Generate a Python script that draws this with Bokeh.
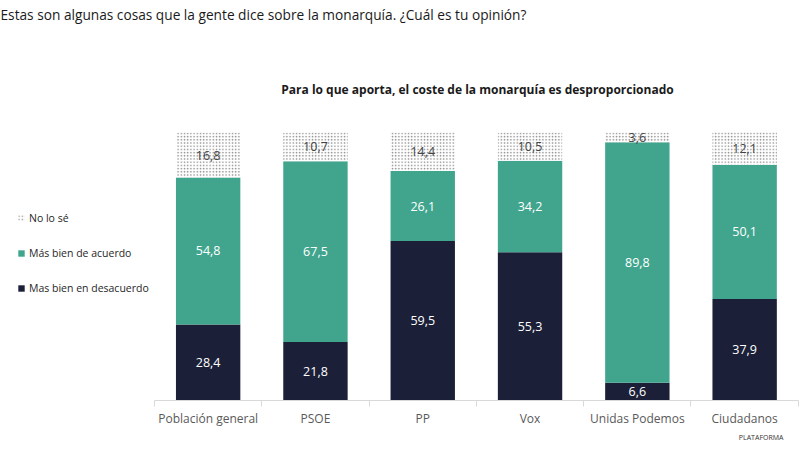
from bokeh.plotting import figure
from bokeh.models import (Range1d, LinearAxis, FixedTicker, Legend, LegendItem,
                          Label, Title, ColumnDataSource)
from bokeh.core.properties import value
from bokeh.embed import file_html
from bokeh.resources import INLINE

categories = ["Población general", "PSOE", "PP", "Vox", "Unidas Podemos", "Ciudadanos"]
desacuerdo = [28.4, 21.8, 59.5, 55.3, 6.6, 37.9]
acuerdo = [54.8, 67.5, 26.1, 34.2, 89.8, 50.1]
no_lo_se = [16.8, 10.7, 14.4, 10.5, 3.6, 12.1]
series_names = ["Mas bien en desacuerdo", "Más bien de acuerdo", "No lo sé"]
heading = "Estas son algunas cosas que la gente dice sobre la monarquía. ¿Cuál es tu opinión?"
chart_title = "Para lo que aporta, el coste de la monarquía es desproporcionado"
brand = "PLATAFORMA"

NAVY = "#1b1f37"
TEAL = "#41a58e"
FONT = "Open Sans"

n = len(categories)
xpos = [i + 0.5 for i in range(n)]
src = ColumnDataSource(dict(x=xpos, des=desacuerdo, acu=acuerdo, nls=no_lo_se))

p = figure(width=800, height=450, x_range=Range1d(-1.4352, 6.0205), y_range=Range1d(0, 149.25),
           output_backend="svg", toolbar_location=None, x_axis_type=None, y_axis_type=None,
           min_border_left=0, min_border_right=0, min_border_top=0, min_border_bottom=50)
p.outline_line_color = None
p.grid.visible = False
p.title.visible = False

rs = p.vbar_stack(["des", "acu", "nls"], x="x", width=0.6, source=src,
                  fill_color=[NAVY, TEAL, "white"], line_color=None)
rs[2].glyph.hatch_pattern = "dot"
rs[2].glyph.hatch_color = "#8c8c8c"
rs[2].glyph.hatch_scale = 3.2
rs[2].glyph.hatch_weight = 1.0

# value labels
lx, ly, lt, lc = [], [], [], []
for i in range(n):
    base = 0.0
    for vals, col in ((desacuerdo, "white"), (acuerdo, "white"), (no_lo_se, "#444444")):
        v = vals[i]
        lx.append(xpos[i])
        ly.append(base + v / 2)
        lt.append(f"{v:.1f}".replace(".", ","))
        lc.append(col)
        base += v
lsrc = ColumnDataSource(dict(x=lx, y=ly, t=lt, c=lc))
p.text(x="x", y="y", text="t", text_color="c", source=lsrc, text_align="center",
       text_baseline="middle", text_font=value(FONT), text_font_size="12.5px")

xaxis = LinearAxis(ticker=FixedTicker(ticks=xpos, minor_ticks=list(range(n + 1))),
                   major_label_overrides={x: c for x, c in zip(xpos, categories)},
                   bounds=(0, n))
xaxis.axis_line_color = "#d9d9d9"
xaxis.major_tick_line_color = None
xaxis.major_tick_out = 0
xaxis.major_tick_in = 0
xaxis.minor_tick_line_color = "#d9d9d9"
xaxis.minor_tick_out = 6
xaxis.minor_tick_in = 0
xaxis.major_label_standoff = 3
xaxis.major_label_text_font = FONT
xaxis.major_label_text_font_size = "12px"
xaxis.major_label_text_color = "#595959"
p.add_layout(xaxis, "below")

legend = Legend(items=[LegendItem(label=series_names[2], renderers=[rs[2]]),
                       LegendItem(label=series_names[1], renderers=[rs[1]]),
                       LegendItem(label=series_names[0], renderers=[rs[0]])],
                location=(17, 105))
legend.label_text_font = FONT
legend.label_text_font_size = "10.5px"
legend.label_text_color = "#262626"
legend.glyph_width = 8
legend.glyph_height = 8
legend.label_height = 12
legend.spacing = 21
legend.padding = 0
legend.margin = 0
legend.label_standoff = 4
legend.background_fill_alpha = 0
legend.border_line_color = None
p.add_layout(legend, "center")

p.add_layout(Label(x=0, y=386, x_units="screen", y_units="screen", text=heading,
                   text_font=FONT, text_font_size="13.7px", text_color="#1a1a1a",
                   text_baseline="middle", text_align="left"))
p.add_layout(Label(x=477, y=311, x_units="screen", y_units="screen", text=chart_title,
                   text_font=FONT, text_font_size="12px", text_font_style="bold",
                   text_color="#1a1a1a", text_baseline="middle", text_align="center"))

logo = Title(text=brand, align="right", text_font=FONT, text_font_size="7px",
             text_font_style="normal", text_color="#333333", offset=17, standoff=2)
p.add_layout(logo, "below")

open("out.html", "w").write(file_html(p, INLINE))
